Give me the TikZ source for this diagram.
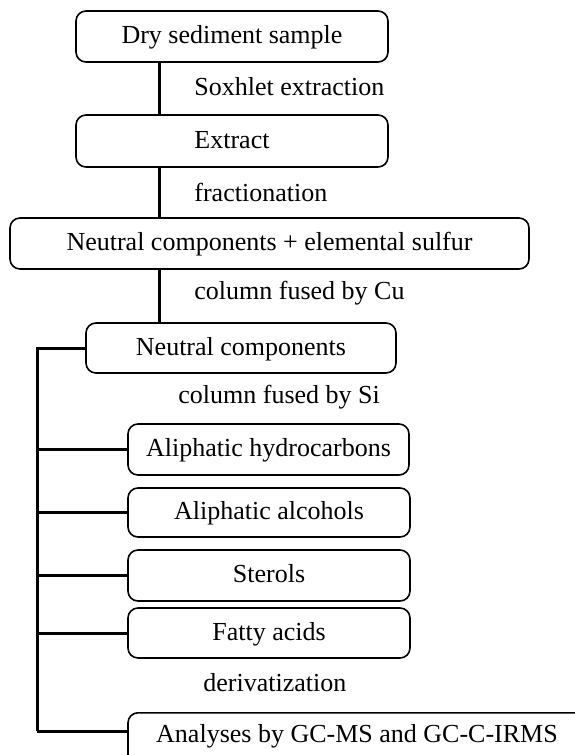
\documentclass[tikz,border=0pt]{standalone}
\usepackage{fontspec}
\setmainfont{Liberation Serif}
\usetikzlibrary{calc}

\begin{document}
\begin{tikzpicture}[x=0.5pt, y=-0.5pt,
        box/.style={draw=black, line width=0.8pt, rounded corners=5pt, align=center,
            inner sep=3pt, text height=10pt, text depth=3pt, minimum height=25.5pt},
        conn/.style={draw=black, line width=1.5pt},
        lbl/.style={anchor=west, inner sep=0pt}]
        \fontsize{13}{15}\selectfont
        \useasboundingbox (0,0) rectangle (574,755);
        \begin{scope}
\coordinate (trunk) at (159,0);
\coordinate (spine) at (37,0);
\node[box, minimum width=156pt] (dry) at (232, 36.5) {Dry sediment sample};
\node[box, minimum width=156pt, minimum height=26pt] (extract) at (232, 141) {Extract};
\node[box, minimum width=259.5pt] (neutsulf) at (269.5, 243.5) {Neutral components + elemental sulfur};
\node[box, minimum width=155pt, minimum height=25pt] (neut) at (241, 348) {Neutral components};
\node[box, minimum width=140.5pt] (alhc) at (268.5, 449.5) {Aliphatic hydrocarbons};
\node[box, minimum width=141pt, minimum height=24.5pt] (alal) at (269, 512.5) {Aliphatic alcohols};
\node[box, minimum width=141pt] (sterol) at (269, 575.5) {Sterols};
\node[box, minimum width=141pt, minimum height=25pt] (fatty) at (269, 633) {Fatty acids};
\node[box, minimum width=229pt, anchor=north, text height=12pt, text depth=12pt] (analyses) at (357, 712) {Analyses by GC-MS and GC-C-IRMS};
\node[lbl] (soxhlet) at (194, 87) {Soxhlet extraction};
\node[lbl] (fraction) at (194, 192) {fractionation};
\node[lbl] (colcu) at (194, 293) {column fused by Cu};
\node[lbl] (colsi) at (178, 397) {column fused by Si};
\node[lbl] (deriv) at (203, 683) {derivatization};
\draw[conn] (trunk |- dry.south) -- (trunk |- extract.north);
\draw[conn] (trunk |- extract.south) -- (trunk |- neutsulf.north);
\draw[conn] (trunk |- neutsulf.south) -- (trunk |- neut.north);
\draw[conn] (neut.west) -- (spine |- neut.west) -- (spine |- {$(analyses.north west)+(0,19)$});
\foreach \n in {alhc, alal, sterol, fatty}
    \draw[conn] (spine |- \n.west) -- (\n.west);
\draw[conn] (spine |- {$(analyses.north west)+(0,19)$}) -- ($(analyses.north west)+(0,19)$);
\end{scope}
    \end{tikzpicture}
\end{document}
